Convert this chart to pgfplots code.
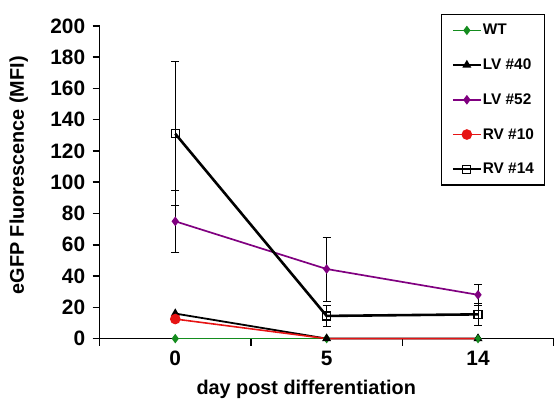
\documentclass[border=0pt]{standalone}
\usepackage{fontspec}
\setmainfont{Liberation Sans}
\usepackage{pgfplots}
\pgfplotsset{compat=1.18}
\definecolor{wtgreen}{RGB}{20,140,30}
\definecolor{lvpurple}{RGB}{128,0,128}
\definecolor{rvred}{RGB}{230,20,20}
\begin{document}
\begin{tikzpicture}
\begin{axis}[
  scale only axis, width=456bp, height=314bp,
  xmin=0, xmax=3, ymin=0, ymax=200,
  axis x line=bottom, axis y line=left,
  axis line style={-, line width=1.8bp, black},
  tick align=outside, major tick length=7bp,
  tick style={line width=1.5bp, black},
  xtick={0,1,2,3}, xticklabels={},
  extra x ticks={0.5,1.5,2.5}, extra x tick labels={0,5,14},
  extra x tick style={major tick length=0pt},
  ytick={0,20,...,200},
  /pgf/number format/assume math mode=true,
  ticklabel style={font=\fontsize{21}{24}\selectfont\bfseries},
  xticklabel style={yshift=-9bp},
  yticklabel style={xshift=-4bp},
  xlabel={day post differentiation},
  xlabel style={at={(axis description cs:0.455,0)}, anchor=base, yshift=-56bp, font=\fontsize{20}{23}\selectfont\bfseries},
  ylabel={eGFP Fluorescence (MFI)},
  ylabel style={at={(axis description cs:-0.178,0.522)}, anchor=center, rotate=0, font=\fontsize{20}{23}\selectfont\bfseries},
  clip=false,
  legend style={at={(0.752,1.038)}, anchor=north west, draw=black, line width=1.2bp, fill=white,
    font=\fontsize{15.5}{18}\selectfont\bfseries, row sep=21bp, inner xsep=10bp, inner ysep=9bp,
    nodes={inner sep=0.8bp}},
  legend cell align=left,
  legend image code/.code={\draw[mark repeat=2,mark phase=2] plot coordinates {(0bp,0bp) (14bp,0bp) (28bp,0bp)};},
  error bars/y dir=both, error bars/y explicit,
  error bars/error bar style={black, line width=0.8bp},
  error bars/error mark options={rotate=90, mark size=4bp, line width=0.8bp, black},
]
\addplot[wtgreen, line width=1.6bp, mark=diamond*, mark size=3.5bp] coordinates {(0.5,0) (1.5,0) (2.5,0)};
\addlegendentry{WT}
\addplot[black, line width=1.8bp, mark=triangle*, mark size=3.5bp] coordinates {(0.5,16) (1.5,0) (2.5,0)};
\addlegendentry{LV \#40}
\addplot[lvpurple, line width=1.7bp, mark=diamond*, mark size=3.5bp] coordinates {(0.5,75) +- (0,20) (1.5,44.5) +- (0,20.5) (2.5,28) +- (0,6.5)};
\addlegendentry{LV \#52}
\addplot[forget plot, rvred, line width=1.6bp, mark=*, mark size=4.5bp, mark indices={1}] coordinates {(0.5,12.5) (1.5,0) (2.5,0)};
\addlegendimage{rvred, line width=1.6bp, mark=*, mark size=4.5bp}
\addlegendentry{RV \#10}
\addplot[black, line width=2.6bp, mark=square, mark size=4bp, mark options={line width=1.2bp, fill=white}] coordinates {(0.5,131) +- (0,46) (1.5,14.5) +- (0,7) (2.5,15.5) +- (0,7)};
\addlegendentry{RV \#14}
\addplot[forget plot, only marks, wtgreen, mark=diamond*, mark size=3.5bp] coordinates {(2.5,0)};
\end{axis}
\path[use as bounding box] (-100bp,-59bp) rectangle (457bp,340bp);
\end{tikzpicture}
\end{document}
